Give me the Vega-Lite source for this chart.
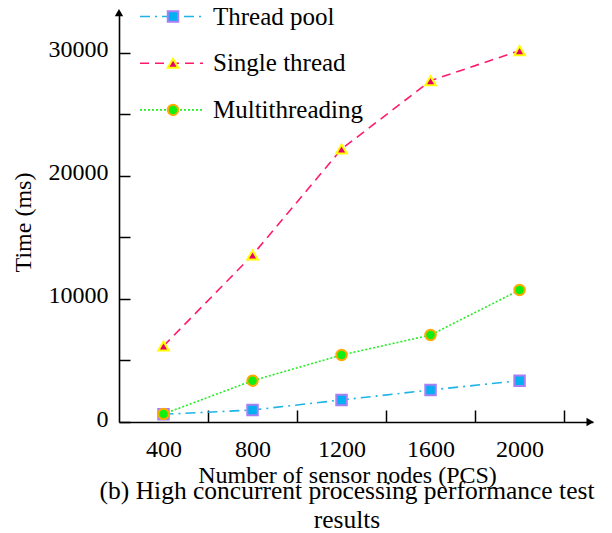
{
  "$schema": "https://vega.github.io/schema/vega-lite/v6.json",
  "width": 474,
  "height": 410,
  "autosize": {"type": "none"},
  "padding": {"left": 119, "top": 12, "right": 19, "bottom": 111},
  "background": "white",
  "config": {
    "view": {"stroke": null},
    "font": "Liberation Serif",
    "axis": {
      "grid": false,
      "domainColor": "black",
      "domainWidth": 1.6,
      "tickColor": "black",
      "tickWidth": 1.5,
      "labelFont": "Liberation Serif",
      "labelFontSize": 24,
      "labelColor": "black",
      "titleFont": "Liberation Serif",
      "titleFontSize": 24,
      "titleFontWeight": "normal",
      "titleColor": "black"
    },
    "legend": {
      "labelFont": "Liberation Serif",
      "labelFontSize": 25,
      "labelColor": "black",
      "labelLimit": 400
    },
    "title": {
      "font": "Liberation Serif",
      "fontSize": 25.5,
      "fontWeight": "normal",
      "color": "black"
    }
  },
  "title": {
    "text": ["(b) High concurrent processing performance test", "results"],
    "orient": "bottom",
    "anchor": "middle",
    "frame": "group",
    "dx": -9,
    "offset": -8,
    "lineHeight": 29
  },
  "datasets": {
    "perf": [
      {"series": "Thread pool", "nodes": 400, "time": 625},
      {"series": "Thread pool", "nodes": 800, "time": 975},
      {"series": "Thread pool", "nodes": 1200, "time": 1790},
      {"series": "Thread pool", "nodes": 1600, "time": 2600},
      {"series": "Thread pool", "nodes": 2000, "time": 3355},
      {"series": "Single thread", "nodes": 400, "time": 6170},
      {"series": "Single thread", "nodes": 800, "time": 13560},
      {"series": "Single thread", "nodes": 1200, "time": 22170},
      {"series": "Single thread", "nodes": 1600, "time": 27720},
      {"series": "Single thread", "nodes": 2000, "time": 30160},
      {"series": "Multithreading", "nodes": 400, "time": 650},
      {"series": "Multithreading", "nodes": 800, "time": 3355},
      {"series": "Multithreading", "nodes": 1200, "time": 5440},
      {"series": "Multithreading", "nodes": 1600, "time": 7065},
      {"series": "Multithreading", "nodes": 2000, "time": 10720}
    ],
    "arrowUp": [{"nodes": 200, "time": 33250}],
    "arrowRight": [{"nodes": 2317, "time": 0}]
  },
  "encoding": {
    "x": {
      "field": "nodes",
      "type": "quantitative",
      "scale": {"domain": [200, 2330], "nice": false, "zero": false},
      "axis": {
        "values": [400, 600, 800, 1000, 1200, 1400, 1600, 1800, 2000, 2200],
        "labelExpr": "datum.value % 400 === 0 ? datum.label : ''",
        "tickOpacity": {"condition": {"test": "datum.value % 400 === 0", "value": 0}, "value": 1},
        "format": "d",
        "tickSize": -12,
        "labelPadding": 27,
        "title": "Number of sensor nodes (PCS)",
        "titleX": 228,
        "titleY": 60,
        "titleBaseline": "alphabetic",
        "titleAlign": "center",
        "labelFlush": false
      }
    },
    "y": {
      "field": "time",
      "type": "quantitative",
      "scale": {"domain": [0, 33300], "nice": false},
      "axis": {
        "values": [0, 5000, 10000, 15000, 20000, 25000, 30000],
        "labelExpr": "datum.value % 10000 === 0 ? datum.value + '' : ''",
        "tickSize": -11,
        "labelPadding": 22,
        "labelOffset": -3,
        "title": "Time (ms)",
        "titleX": -89,
        "titleY": 210,
        "titleAngle": -90,
        "titleAlign": "center",
        "titleBaseline": "alphabetic",
        "labelFlush": false
      }
    }
  },
  "layer": [
    {
      "data": {"name": "perf"},
      "mark": {"type": "line", "strokeWidth": 1.6},
      "encoding": {
        "color": {
          "field": "series",
          "type": "nominal",
          "scale": {
            "domain": ["Thread pool", "Single thread", "Multithreading"],
            "range": ["#1eb4e6", "#ff1a6e", "#22ee22"]
          },
          "legend": {
            "orient": "none",
            "legendX": 40,
            "legendY": -8,
            "title": null,
            "padding": 0,
            "symbolType": "M-3.15,0H3.15",
            "symbolSize": 400,
            "symbolStrokeWidth": 1.6,
            "labelOffset": 29,
            "rowPadding": 20.7
          }
        },
        "strokeDash": {
          "field": "series",
          "type": "nominal",
          "scale": {
            "domain": ["Thread pool", "Single thread", "Multithreading"],
            "range": [[10, 5, 2, 5], [9, 6], [2, 2]]
          },
          "legend": {
            "orient": "none",
            "legendX": 40,
            "legendY": -8,
            "title": null,
            "padding": 0,
            "symbolType": "M-3.15,0H3.15",
            "symbolSize": 400,
            "symbolStrokeWidth": 1.6,
            "labelOffset": 29,
            "rowPadding": 20.7
          }
        }
      }
    },
    {
      "data": {"name": "perf"},
      "mark": {"type": "point", "filled": true, "size": 110, "strokeWidth": 2, "opacity": 1},
      "encoding": {
        "shape": {
          "field": "series",
          "type": "nominal",
          "scale": {
            "domain": ["Thread pool", "Single thread", "Multithreading"],
            "range": ["square", "triangle-up", "circle"]
          },
          "legend": {
            "orient": "none",
            "legendX": 41.5,
            "legendY": -8,
            "title": null,
            "padding": 0,
            "symbolSize": 110,
            "symbolStrokeWidth": 2,
            "labelExpr": "''",
            "rowPadding": 20.7
          }
        },
        "fill": {
          "field": "series",
          "type": "nominal",
          "scale": {
            "domain": ["Thread pool", "Single thread", "Multithreading"],
            "range": ["#00b0f0", "#e6006a", "#11ee11"]
          },
          "legend": {
            "orient": "none",
            "legendX": 41.5,
            "legendY": -8,
            "title": null,
            "padding": 0,
            "symbolSize": 110,
            "symbolStrokeWidth": 2,
            "labelExpr": "''",
            "rowPadding": 20.7
          }
        },
        "stroke": {
          "field": "series",
          "type": "nominal",
          "scale": {
            "domain": ["Thread pool", "Single thread", "Multithreading"],
            "range": ["#a87ff5", "#ffff00", "#ffaa00"]
          },
          "legend": {
            "orient": "none",
            "legendX": 41.5,
            "legendY": -8,
            "title": null,
            "padding": 0,
            "symbolSize": 110,
            "symbolStrokeWidth": 2,
            "labelExpr": "''",
            "rowPadding": 20.7
          }
        }
      }
    },
    {
      "data": {"name": "arrowUp"},
      "mark": {"type": "point", "shape": "triangle-up", "filled": true, "color": "black", "size": 70, "opacity": 1}
    },
    {
      "data": {"name": "arrowRight"},
      "mark": {"type": "point", "shape": "triangle-right", "filled": true, "color": "black", "size": 70, "opacity": 1}
    }
  ],
  "resolve": {
    "legend": {
      "color": "independent",
      "strokeDash": "independent",
      "shape": "independent",
      "fill": "independent",
      "stroke": "independent"
    }
  }
}
